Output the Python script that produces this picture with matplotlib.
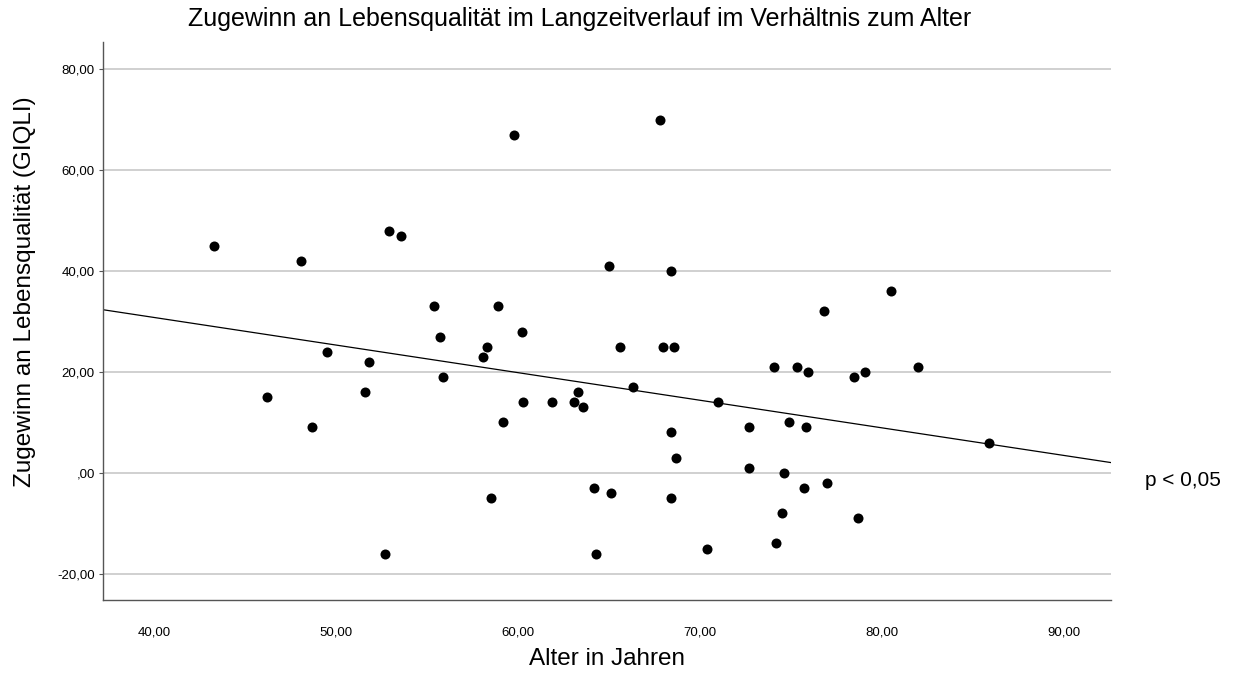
import matplotlib.pyplot as plt
import numpy as np

plt.rcParams['font.family'] = ['Liberation Sans', 'DejaVu Sans']

# Alter (Jahre) und Zugewinn an Lebensqualität (GIQLI)
alter = [43.3, 46.2, 48.1, 48.7, 49.5, 51.6, 51.8, 52.7, 52.9, 53.6,
         55.4, 55.7, 55.9, 58.1, 58.3, 58.5, 58.9, 59.2, 59.8, 60.2,
         60.3, 61.9, 63.1, 63.3, 63.6, 64.2, 64.3, 65.0, 65.1, 65.6,
         66.3, 67.8, 67.95, 68.4, 68.4, 68.4, 68.6, 68.7, 70.4, 71.0,
         72.7, 72.7, 74.1, 74.2, 74.5, 74.6, 74.9, 75.35, 75.7, 75.85,
         75.95, 76.8, 77.0, 78.45, 78.7, 79.1, 80.5, 82.0, 85.9]
zugewinn = [45, 15, 42, 9, 24, 16, 22, -16, 48, 47,
            33, 27, 19, 23, 25, -5, 33, 10, 67, 28,
            14, 14, 14, 16, 13, -3, -16, 41, -4, 25,
            17, 70, 25, 40, 8, -5, 25, 3, -15, 14,
            9, 1, 21, -14, -8, 0, 10, 21, -3, 9,
            20, 32, -2, 19, -9, 20, 36, 21, 6]

x_ticks = [40, 50, 60, 70, 80, 90]
y_ticks = [-20, 0, 20, 40, 60, 80]


def fmt(v):
    s = f"{v:.2f}".replace('.', ',')
    return ",00" if v == 0 else s


fig = plt.figure(figsize=(12.4, 6.73), dpi=100)
ax = fig.add_axes([0.0831, 0.1085, 0.8129, 0.8291])

xlim = (37.2, 92.6)
ax.set_xlim(*xlim)
ax.set_ylim(-25.2, 85.4)

ax.set_yticks(y_ticks)
ax.set_yticklabels([fmt(v) for v in y_ticks])
ax.set_xticks(x_ticks)
ax.set_xticklabels([fmt(v) for v in x_ticks])
ax.tick_params(labelsize=9.5, length=3, color='#555555', pad=3)
ax.tick_params(axis='x', length=0, pad=19)

ax.grid(axis='y', color='#c8c8c8', linewidth=1.2)
ax.set_axisbelow(True)
for side in ['top', 'right']:
    ax.spines[side].set_visible(False)
for side in ['left', 'bottom']:
    ax.spines[side].set_color('#555555')
    ax.spines[side].set_linewidth(1)

# lineare Regression
slope, intercept = np.polyfit(alter, zugewinn, 1)
xs = np.array(xlim)
ax.plot(xs, intercept + slope * xs, color='black', linewidth=0.9, zorder=2)

ax.scatter(alter, zugewinn, s=52, color='black', zorder=3, linewidths=0)

fig.text(580 / 1240, 1 - 19 / 673, 'Zugewinn an Lebensqualität im Langzeitverlauf im Verhältnis zum Alter',
         ha='center', va='center', fontsize=18)
fig.text(607 / 1240, 1 - 659 / 673, 'Alter in Jahren', ha='center', va='center', fontsize=17.5)
fig.text(25 / 1240, 1 - 292 / 673, 'Zugewinn an Lebensqualität (GIQLI)', ha='center', va='center',
         rotation=90, fontsize=17.5)
fig.text(1145 / 1240, 1 - 481 / 673, 'p < 0,05', ha='left', va='center', fontsize=15)

fig.savefig('out.png', dpi=100)
